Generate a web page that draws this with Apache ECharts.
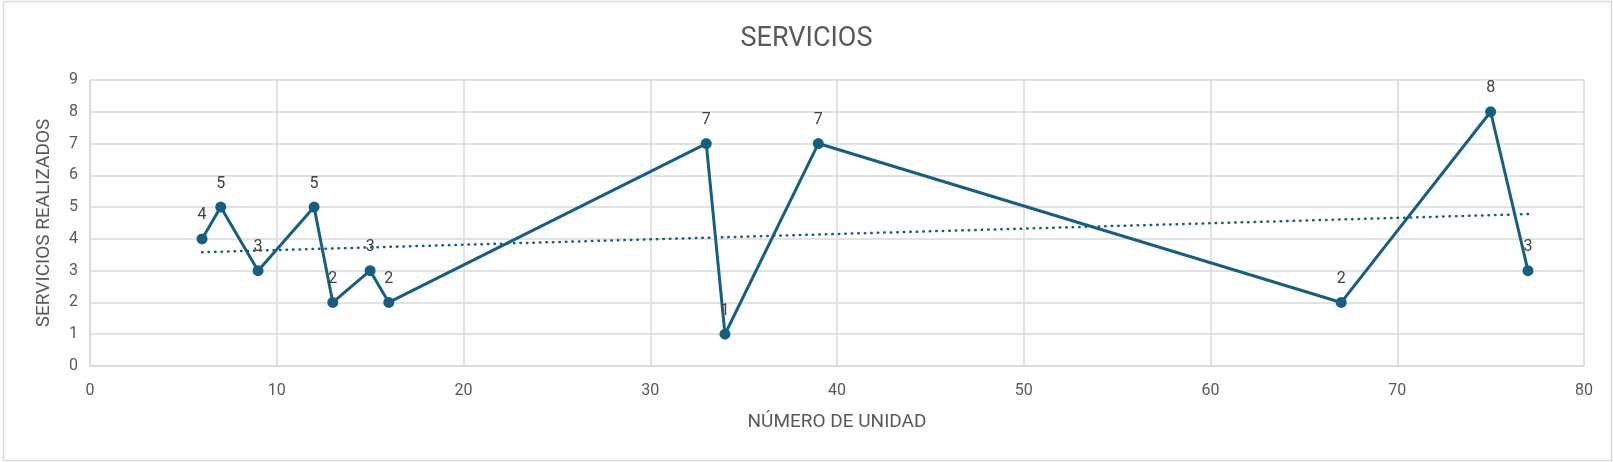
<!DOCTYPE html>
<html>
<head>
<meta charset="utf-8">
<script src="https://cdn.jsdelivr.net/npm/echarts@6/dist/echarts.min.js"></script>
<style>
html,body{margin:0;padding:0;background:#fff;}
#c{width:1613px;height:462px;}
</style>
</head>
<body>
<div id="c"></div>
<script>
var unitNumbers = [6, 7, 9, 12, 13, 15, 16, 33, 34, 39, 67, 75, 77];
var servicesDone = [4, 5, 3, 5, 2, 3, 2, 7, 1, 7, 2, 8, 3];
var trendX = [6, 77];
var trendY = [3.58, 4.78];

var seriesData = unitNumbers.map(function (x, i) { return [x, servicesDone[i]]; });
var trendData = trendX.map(function (x, i) { return [x, trendY[i]]; });

var chart = echarts.init(document.getElementById('c'));
var font = 'Roboto, "Noto Sans", sans-serif';
chart.setOption({
  animation: false,
  backgroundColor: '#fff',
  textStyle: { fontFamily: font },
  title: {
    text: 'SERVICIOS',
    left: 'center',
    top: 21,
    textStyle: { fontFamily: font, fontSize: 27, fontWeight: 'normal', color: '#595959' }
  },
  graphic: [{
    type: 'rect',
    silent: true,
    shape: { x: 3.5, y: 1.5, width: 1608, height: 459 },
    style: { fill: 'none', stroke: '#d9d9d9', lineWidth: 1.5 }
  }],
  grid: { left: 90, right: 29, top: 80, bottom: 96 },
  xAxis: {
    type: 'value',
    min: 0, max: 80, interval: 10,
    name: 'NÚMERO DE UNIDAD',
    nameLocation: 'middle',
    nameGap: 47,
    nameTextStyle: { fontFamily: font, fontSize: 19, color: '#595959' },
    axisLine: { show: true, lineStyle: { color: '#d9d9d9', width: 1.5 } },
    axisTick: { show: false },
    axisLabel: { fontFamily: font, fontSize: 16, color: '#595959', margin: 17 },
    splitLine: { show: true, lineStyle: { color: '#d9d9d9', width: 1.5 } }
  },
  yAxis: {
    type: 'value',
    min: 0, max: 9, interval: 1,
    name: 'SERVICIOS REALIZADOS',
    nameLocation: 'middle',
    nameGap: 36,
    nameTextStyle: { fontFamily: font, fontSize: 19, color: '#595959' },
    axisLine: { show: true, lineStyle: { color: '#d9d9d9', width: 1.5 } },
    axisTick: { show: false },
    axisLabel: { fontFamily: font, fontSize: 16, color: '#595959', margin: 12 },
    splitLine: { show: true, lineStyle: { color: '#d9d9d9', width: 1.5 } }
  },
  series: [
    {
      type: 'line',
      data: trendData,
      symbol: 'none',
      lineStyle: { color: '#156082', width: 2.5, type: [0.5, 6], cap: 'round' },
      z: 1,
      silent: true
    },
    {
      type: 'line',
      data: seriesData,
      symbol: 'circle',
      symbolSize: 11,
      lineStyle: { color: '#156082', width: 3 },
      itemStyle: { color: '#156082' },
      label: {
        show: true,
        position: 'top',
        distance: 10,
        fontFamily: font,
        fontSize: 16,
        color: '#404040',
        formatter: function (p) { return p.value[1]; }
      },
      z: 3
    }
  ]
});
</script>
</body>
</html>
